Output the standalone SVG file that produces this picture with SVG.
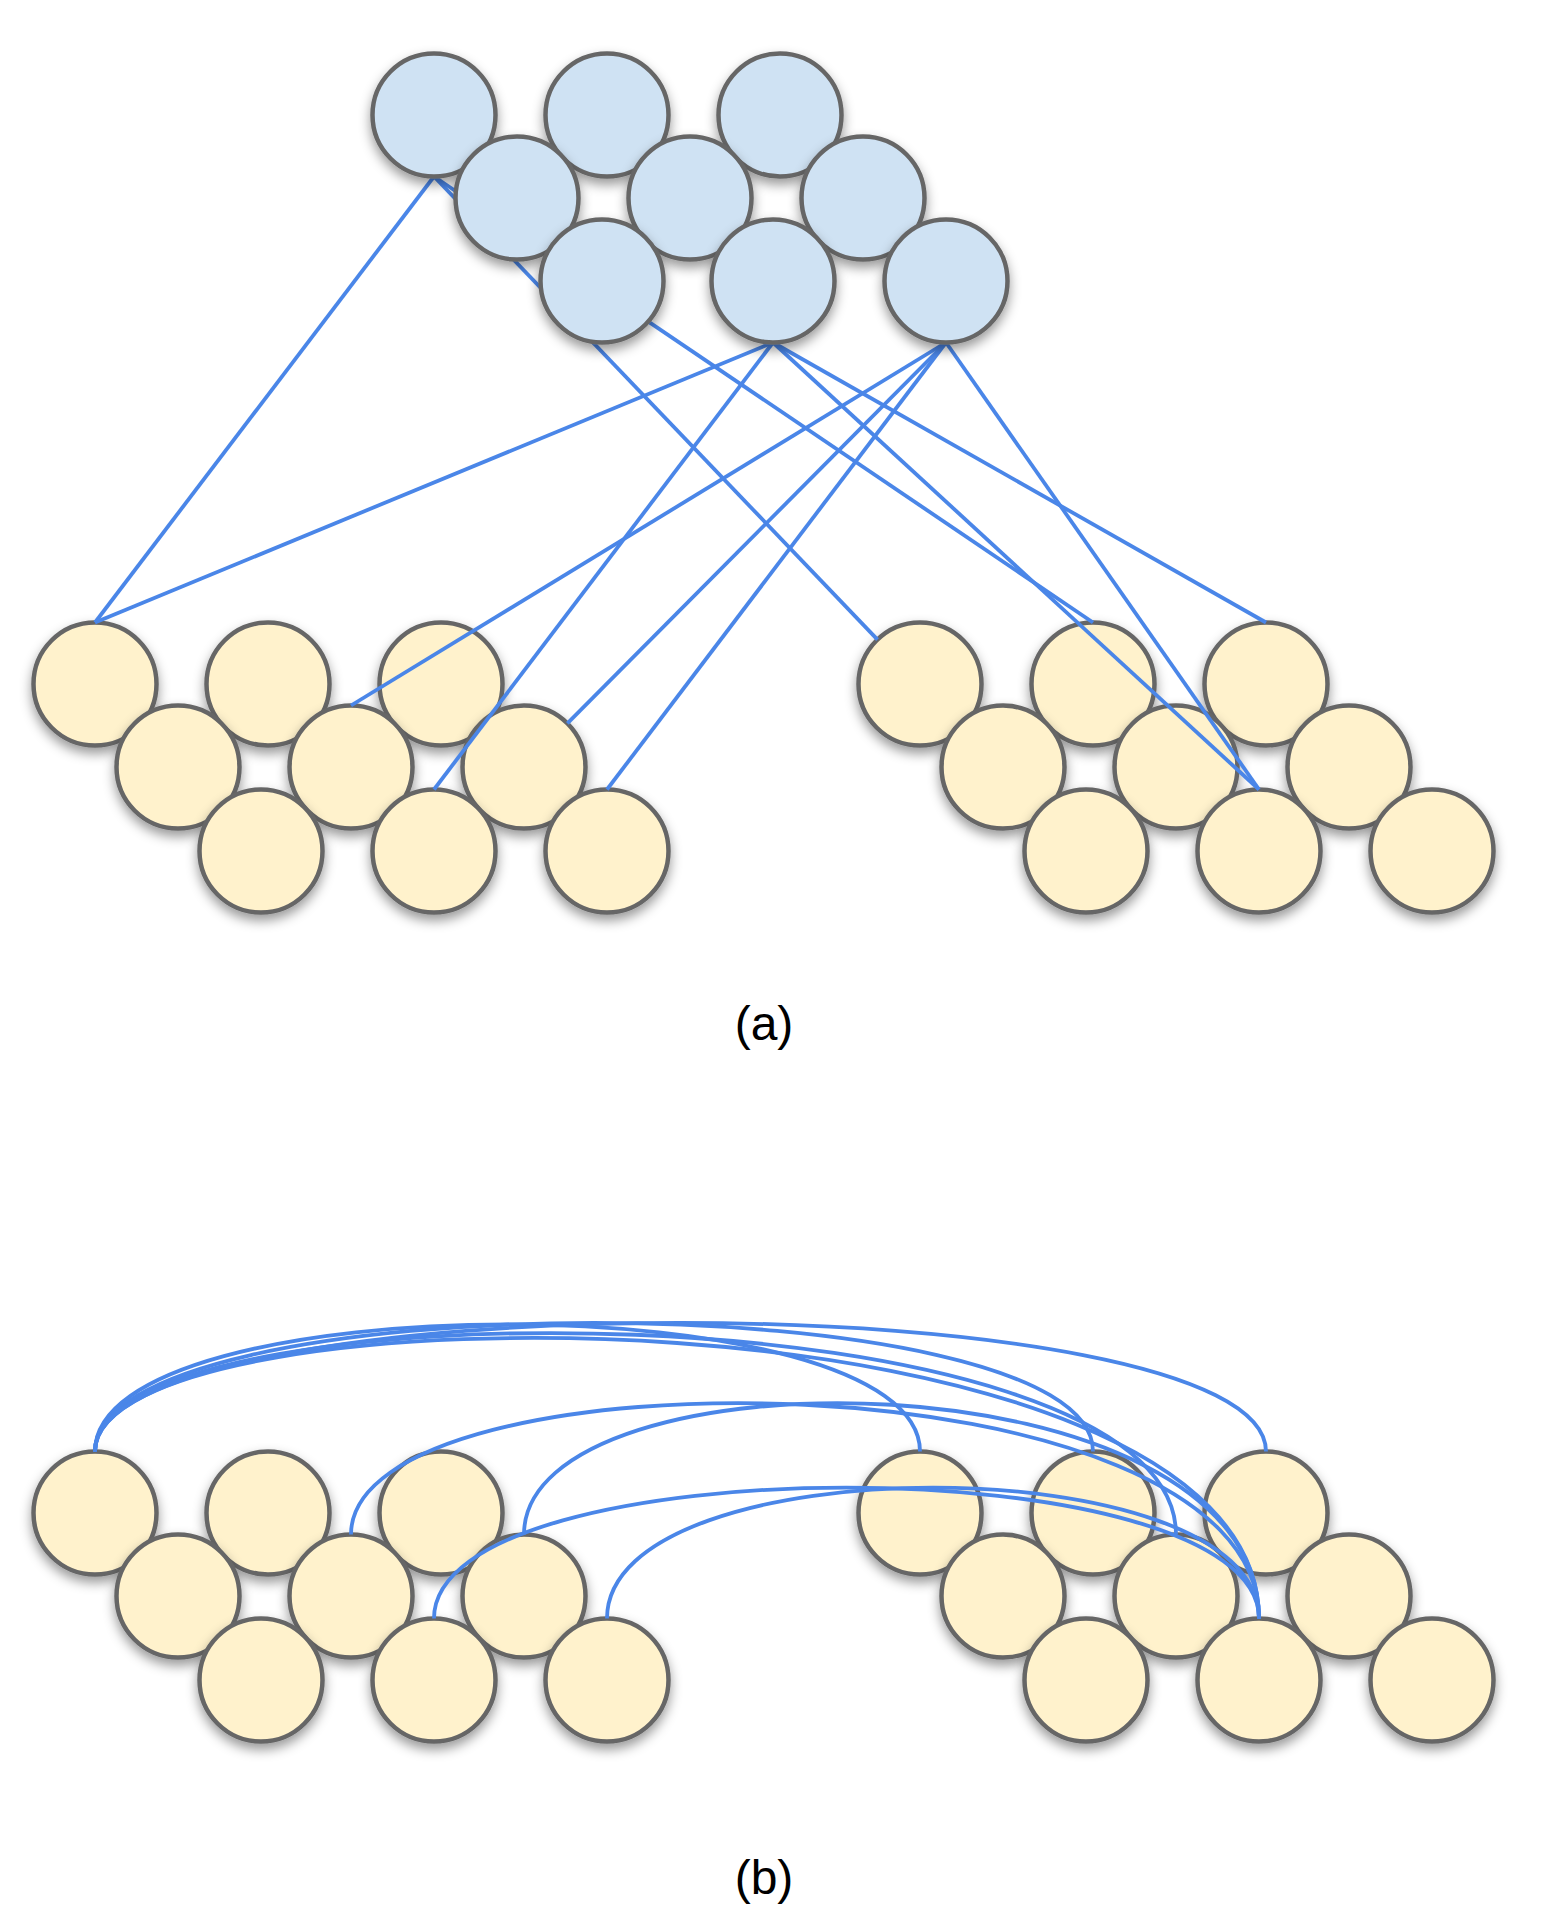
<svg xmlns="http://www.w3.org/2000/svg" width="1545" height="1925" viewBox="0 0 1545 1925">
<defs>
<filter id="sh" x="-30%" y="-30%" width="160%" height="170%">
<feDropShadow dx="0" dy="6" stdDeviation="6" flood-color="#000" flood-opacity="0.4"/>
</filter>
</defs>
<style>
.hid{fill:#cfe2f3;stroke:#666666;stroke-width:4.5;filter:url(#sh)}
.vis{fill:#fff2cc;stroke:#666666;stroke-width:4.5;filter:url(#sh)}
.edge{fill:none;stroke:#4a86e8;stroke-width:3.8}
.lbl{font-family:"Liberation Sans",Arial,sans-serif;font-size:48px;fill:#000;text-anchor:middle}
</style>
<rect width="1545" height="1925" fill="#ffffff"/>

<!-- (a) visible layer -->
<g id="a-left">
<circle id="aL11" class="vis" cx="95" cy="684" r="61.5"/>
<circle id="aL12" class="vis" cx="268" cy="684" r="61.5"/>
<circle id="aL13" class="vis" cx="441" cy="684" r="61.5"/>
<circle id="aL21" class="vis" cx="178" cy="767" r="61.5"/>
<circle id="aL22" class="vis" cx="351" cy="767" r="61.5"/>
<circle id="aL23" class="vis" cx="524" cy="767" r="61.5"/>
<circle id="aL31" class="vis" cx="261" cy="851" r="61.5"/>
<circle id="aL32" class="vis" cx="434" cy="851" r="61.5"/>
<circle id="aL33" class="vis" cx="607" cy="851" r="61.5"/>
</g>
<g id="a-right">
<circle id="aR11" class="vis" cx="920" cy="684" r="61.5"/>
<circle id="aR12" class="vis" cx="1093" cy="684" r="61.5"/>
<circle id="aR13" class="vis" cx="1266" cy="684" r="61.5"/>
<circle id="aR21" class="vis" cx="1003" cy="767" r="61.5"/>
<circle id="aR22" class="vis" cx="1176" cy="767" r="61.5"/>
<circle id="aR23" class="vis" cx="1349" cy="767" r="61.5"/>
<circle id="aR31" class="vis" cx="1086" cy="851" r="61.5"/>
<circle id="aR32" class="vis" cx="1259" cy="851" r="61.5"/>
<circle id="aR33" class="vis" cx="1432" cy="851" r="61.5"/>
</g>

<g id="a-connectors">
<line class="edge" x1="434" y1="176.5" x2="95" y2="622.5"/>
<line class="edge" x1="434" y1="176.5" x2="877.5" y2="639.6"/>
<line class="edge" x1="434" y1="176.5" x2="1093" y2="622.5"/>
<line class="edge" x1="773" y1="342.5" x2="95" y2="622.5"/>
<line class="edge" x1="773" y1="342.5" x2="434" y2="789.5"/>
<line class="edge" x1="773" y1="342.5" x2="1259" y2="789.5"/>
<line class="edge" x1="773" y1="342.5" x2="1266" y2="622.5"/>
<line class="edge" x1="946" y1="342.5" x2="351" y2="705.5"/>
<line class="edge" x1="946" y1="342.5" x2="567.4" y2="723.4"/>
<line class="edge" x1="946" y1="342.5" x2="607" y2="789.5"/>
<line class="edge" x1="946" y1="342.5" x2="1259" y2="789.5"/>
</g>

<g id="a-hidden">
<circle id="H11" class="hid" cx="434" cy="115" r="61.5"/>
<circle id="H12" class="hid" cx="607" cy="115" r="61.5"/>
<circle id="H13" class="hid" cx="780" cy="115" r="61.5"/>
<circle id="H21" class="hid" cx="517" cy="198" r="61.5"/>
<circle id="H22" class="hid" cx="690" cy="198" r="61.5"/>
<circle id="H23" class="hid" cx="863" cy="198" r="61.5"/>
<circle id="H31" class="hid" cx="602" cy="281" r="61.5"/>
<circle id="H32" class="hid" cx="773" cy="281" r="61.5"/>
<circle id="H33" class="hid" cx="946" cy="281" r="61.5"/>
</g>

<text id="label-a" class="lbl" x="764" y="1040">(a)</text>

<!-- (b) -->
<g id="b-left">
<circle id="bL11" class="vis" cx="95" cy="1513" r="61.5"/>
<circle id="bL12" class="vis" cx="268" cy="1513" r="61.5"/>
<circle id="bL13" class="vis" cx="441" cy="1513" r="61.5"/>
<circle id="bL21" class="vis" cx="178" cy="1596" r="61.5"/>
<circle id="bL22" class="vis" cx="351" cy="1596" r="61.5"/>
<circle id="bL23" class="vis" cx="524" cy="1596" r="61.5"/>
<circle id="bL31" class="vis" cx="261" cy="1680" r="61.5"/>
<circle id="bL32" class="vis" cx="434" cy="1680" r="61.5"/>
<circle id="bL33" class="vis" cx="607" cy="1680" r="61.5"/>
</g>
<g id="b-right">
<circle id="bR11" class="vis" cx="920" cy="1513" r="61.5"/>
<circle id="bR12" class="vis" cx="1093" cy="1513" r="61.5"/>
<circle id="bR13" class="vis" cx="1266" cy="1513" r="61.5"/>
<circle id="bR21" class="vis" cx="1003" cy="1596" r="61.5"/>
<circle id="bR22" class="vis" cx="1176" cy="1596" r="61.5"/>
<circle id="bR23" class="vis" cx="1349" cy="1596" r="61.5"/>
<circle id="bR31" class="vis" cx="1086" cy="1680" r="61.5"/>
<circle id="bR32" class="vis" cx="1259" cy="1680" r="61.5"/>
<circle id="bR33" class="vis" cx="1432" cy="1680" r="61.5"/>
</g>

<g id="b-connectors">
<path class="edge" d="M95,1451.5 C95,1282 920,1282 920,1451.5"/>
<path class="edge" d="M95,1451.5 C95,1280 1093,1280 1093,1451.5"/>
<path class="edge" d="M95,1451.5 C95,1280 1266,1280 1266,1451.5"/>
<path class="edge" d="M95,1451.5 C95,1280 1176,1284 1176,1534.5"/>
<path class="edge" d="M95,1451.5 C95,1280 1259,1278 1259,1618.5"/>
<path class="edge" d="M351,1534.5 C351,1345 1259,1350 1259,1618.5"/>
<path class="edge" d="M524,1534.5 C524,1345 1259,1350 1259,1618.5"/>
<path class="edge" d="M434,1618.5 C434,1444 1259,1444 1259,1618.5"/>
<path class="edge" d="M607,1618.5 C607,1444 1259,1444 1259,1618.5"/>
</g>

<text id="label-b" class="lbl" x="764" y="1894">(b)</text>
</svg>
